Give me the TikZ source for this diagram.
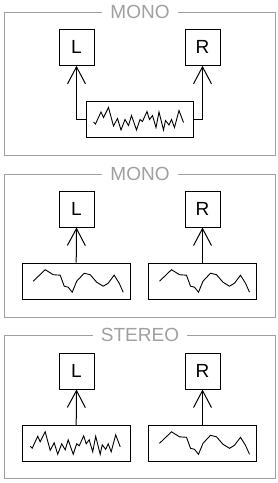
\documentclass[tikz,border=0pt]{standalone}
\usepackage{fontspec}
\setmainfont{Liberation Sans}
\usepackage{tikz}
\usetikzlibrary{arrows.meta,positioning}
\definecolor{framegray}{RGB}{160,160,160}

\tikzset{
  fastwave/.pic={
    \draw[wave] (-46,3) -- (-44,5) -- (-38.5,-7) -- (-36,-1.5) -- (-31,-11.5)
      -- (-26,7) -- (-22,-0.5) -- (-18.5,11) -- (-14.5,0.5) -- (-11,6.5)
      -- (-8,-3.5) -- (-3,11) -- (0.5,0.5) -- (3,2.5) -- (7.5,-7.5) -- (10,0.5)
      -- (13,-3.5) -- (16.5,8.5) -- (19.5,-7) -- (24,11) -- (26,1.5) -- (29.5,6)
      -- (32,0.5) -- (35,8.5) -- (39.5,-8.5) -- (44,3.5);
  },
  slowwave/.pic={
    \draw[wave] (-43,0) -- (-31,-11.5) -- (-23,-6.5) -- (-16,-6) -- (-12,5)
      -- (-8,6) -- (-4,11) -- (0.5,0) -- (8,-8) -- (14,-6.5) -- (20.5,1)
      -- (27,5) -- (32,2) -- (38,-6) -- (43,2) -- (47,11);
  }
}

\begin{document}
\begin{tikzpicture}[
  x=1pt, y=-1pt,
  frame/.style={
    rectangle, draw=framegray, line width=1pt,
    minimum width=270.4pt, minimum height=143pt,
    anchor=north west, inner sep=0pt},
  title/.style={
    fill=white, text=framegray, inner xsep=8pt, inner ysep=0pt,
    font=\fontsize{19}{19}\selectfont},
  box/.style={
    rectangle, draw=black, line width=1pt,
    minimum width=35pt, minimum height=36pt, inner sep=0pt,
    font=\fontsize{19}{19}\selectfont},
  wavebox/.style={
    rectangle, draw=black, line width=1pt,
    minimum width=108pt, minimum height=36pt, inner sep=0pt},
  wave/.style={line width=0.9pt, line join=miter},
  arr/.style={-{Straight Barb[length=17pt,width=18pt]}, line width=1pt}
]
  \useasboundingbox (0,0) rectangle (278,483);

  % top panel: one mono signal to both speakers
  \node[frame](fA) at (4.3,12) {};
  \node[title] (tA) at (fA.north) {MONO};
  \node[box](lA) at (76.5,47.3) {L};
  \node[box](rA) at (202.5,47.3) {R};
  \node[wavebox, minimum width=107pt](wA) at (139.5,119) {};
  \pic at (wA.center) {fastwave};
  \draw[arr](wA.west) -| (lA.south);
  \draw[arr](wA.east) -| (rA.south);

  % middle panel
  \node[frame](fB) at (4.3,173.7) {};
  \node[title] (tB) at (fB.north) {MONO};
  \node[box](lB) at (76.5,209) {L};
  \node[box](rB) at (202.5,209) {R};
  \node[wavebox](wBl) at (76.2,281.2) {};
  \node[wavebox](wBr) at (202.5,281.2) {};
  \pic at (wBl.center) {slowwave};
  \pic at (wBr.center) {slowwave};
  \draw[arr](wBl.north) -- (lB.south);
  \draw[arr](wBr.north) -- (rB.south);

  % bottom panel
  \node[frame](fC) at (4.3,335.3) {};
  \node[title] (tC) at (fC.north) {STEREO};
  \node[box](lC) at (76.5,371) {L};
  \node[box](rC) at (202.5,371) {R};
  \node[wavebox](wCl) at (76.2,443.3) {};
  \node[wavebox](wCr) at (202.5,443.3) {};
  \pic at (wCl.center) {fastwave};
  \pic at (wCr.center) {slowwave};
  \draw[arr](wCl.north) -- (lC.south);
  \draw[arr](wCr.north) -- (rC.south);
\end{tikzpicture}
\end{document}
